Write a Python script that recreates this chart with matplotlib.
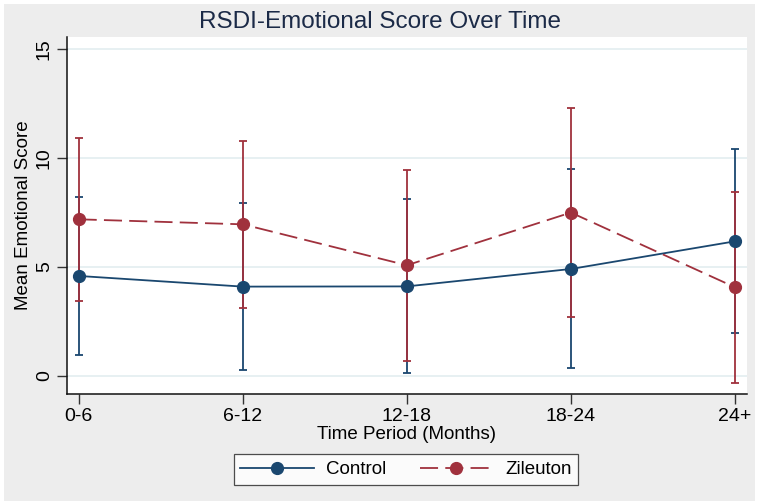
import matplotlib
matplotlib.use("Agg")
from matplotlib import pyplot as plt
from matplotlib.patches import Rectangle
import numpy as np

periods = ["0-6", "6-12", "12-18", "18-24", "24+"]

control_mean = [4.58, 4.09, 4.10, 4.90, 6.17]
control_low = [0.95, 0.25, 0.14, 0.35, 1.95]
control_high = [8.22, 7.94, 8.10, 9.49, 10.40]

zileuton_mean = [7.18, 6.95, 5.07, 7.49, 4.06]
zileuton_low = [3.44, 3.11, 0.67, 2.71, -0.32]
zileuton_high = [10.93, 10.79, 9.45, 12.28, 8.45]

navy = "#1a476f"
maroon = "#a0313d"

plt.rcParams['font.family'] = ['Liberation Sans', 'DejaVu Sans']

fig = plt.figure(figsize=(7.6, 5.01), dpi=100)
fig.patch.set_facecolor("white")
fig.patches.append(Rectangle((4/760, 0), 751/760, 1 - 4/501, transform=fig.transFigure,
                             facecolor="#ededed", edgecolor="none", zorder=-10))

ax = fig.add_axes([66.7/760, 1 - 394/501, 680.3/760, 357/501])
ax.set_facecolor("white")

x = np.arange(len(periods))

def err(mean, lo, hi):
  mean = np.array(mean); lo = np.array(lo); hi = np.array(hi)
  return [mean - lo, hi - mean]

ax.errorbar(x, control_mean, yerr=err(control_mean, control_low, control_high), fmt="none",
            ecolor=navy, elinewidth=1.3, capsize=3.2, capthick=1.3, zorder=2)
ax.errorbar(x, zileuton_mean, yerr=err(zileuton_mean, zileuton_low, zileuton_high), fmt="none",
            ecolor=maroon, elinewidth=1.3, capsize=3.2, capthick=1.3, zorder=3)
ax.plot(x, control_mean, color=navy, lw=1.3, marker="o", markersize=8.5, label="Control", zorder=4)
ax.plot(x, zileuton_mean, color=maroon, lw=1.3, marker="o", markersize=8.5, dashes=(10, 4),
        label="Zileuton", zorder=5)

ax.set_xlim(-0.073, 4.073)
ax.set_ylim(-0.84, 15.55)
ax.set_xticks(x)
ax.set_xticklabels(periods)
ax.set_yticks([0, 5, 10, 15])
ax.set_yticklabels(["0", "5", "10", "15"], rotation=90, va="center")
ax.tick_params(axis="both", labelsize=14, length=7, width=1, color="#333333", pad=3)
ax.grid(axis="y", color="#e3eef0", lw=1.2)
ax.set_axisbelow(True)
for s in ["top", "right"]:
  ax.spines[s].set_visible(False)
for s in ["left", "bottom"]:
  ax.spines[s].set_color("#111111")
  ax.spines[s].set_linewidth(1.1)

ax.set_xlabel("Time Period (Months)", fontsize=13.5, labelpad=1)
ax.set_ylabel("Mean Emotional Score", fontsize=13.5, labelpad=3)
fig.text(0.5, 1 - 22/501, "RSDI-Emotional Score Over Time", ha="center", va="center",
         fontsize=17.5, color="#1b2a47")

leg = fig.legend(loc="center", bbox_to_anchor=(406/760, 1 - 469.5/501), ncol=2, fontsize=13.5,
                 handlelength=3.9, frameon=True, fancybox=False, edgecolor="#222222",
                 columnspacing=1.8, handletextpad=0.65, borderpad=0.35)
leg.get_frame().set_linewidth(0.9)

fig.savefig("out.png", dpi=100)
